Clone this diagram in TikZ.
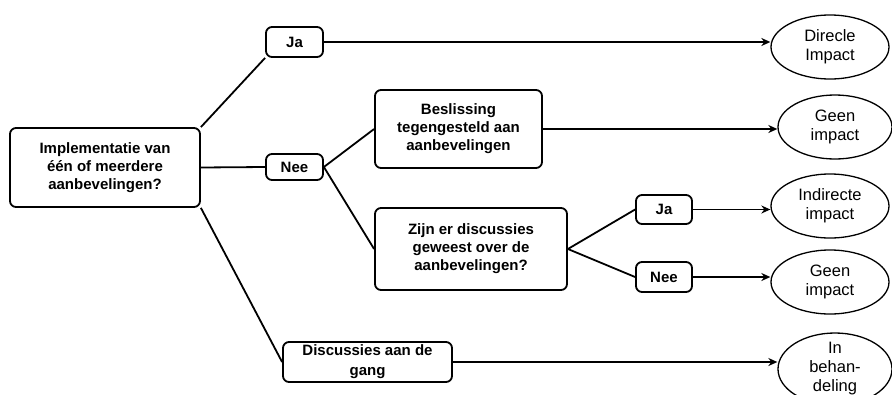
\documentclass[tikz,border=0pt]{standalone}
\usepackage{fontspec}
\setmainfont{Liberation Sans}
\usetikzlibrary{shapes.geometric, arrows.meta, positioning}

\begin{document}
\begin{tikzpicture}[x=1pt, y=-1pt,
  box/.style={draw, line width=1.8pt, rounded corners=6pt, align=center, inner sep=0pt,
    font=\fontsize{15}{18}\selectfont\bfseries},
  result/.style={draw, ellipse, line width=1.3pt, minimum width=118pt, minimum height=64pt,
    align=center, inner sep=0pt, font=\fontsize{16.5}{19}\selectfont},
  link/.style={line width=1.8pt},
  arrow/.style={line width=1.8pt, -{Stealth[length=9pt, width=8pt]}}]
\useasboundingbox (0,0) rectangle (892,394);
% --- Question and first answers ---
\node[box, minimum width=190pt, minimum height=79pt] (impl) at (105,167.5)
  {Implementatie van\\één of meerdere\\aanbevelingen?};
\node[box, minimum width=57pt, minimum height=30pt] (ja) at (294.5,42) {Ja};
\node[box, minimum width=57pt, minimum height=26pt] (nee) at (294.5,167) {Nee};
\node[box, minimum width=169pt, minimum height=40pt, font=\fontsize{15}{20}\selectfont\bfseries]
  (gang) at (367.5,362) {Discussies aan de\\gang};
% --- Branch after Nee ---
\node[box, minimum width=167pt, minimum height=78pt] (besl) at (458.5,129)
  {Beslissing\\tegengesteld aan\\aanbevelingen};
\node[box, minimum width=192pt, minimum height=82pt] (disc) at (471,249)
  {Zijn er discussies\\geweest over de\\aanbevelingen?};
\node[box, minimum width=56pt, minimum height=29pt] (ja2) at (664,209.5) {Ja};
\node[box, minimum width=56pt, minimum height=30pt] (nee2) at (664,277) {Nee};
% --- Outcomes ---
\node[result] (direct) at (830,47) {Direcle\\Impact};
\node[result, minimum width=114pt] (geen1) at (835,127) {Geen\\impact};
\node[result] (indirect) at (830,206) {Indirecte\\impact};
\node[result] (geen2) at (830,282) {Geen\\impact};
\node[result, minimum width=114pt, minimum height=72pt, inner ysep=-6pt] (behandeling) at (835,369)
  {In\\behan-\\deling};
% Connectors
\draw[link] (impl.north east) -- (ja.south west);
\draw[link] (impl.east) -- (nee.west);
\draw[link] (impl.south east) -- (gang.west);
\draw[link] (nee.east) -- (besl.west);
\draw[link] (nee.east) -- (disc.west);
\draw[link] (disc.east) -- (ja2.west);
\draw[link] (disc.east) -- (nee2.west);
\draw[arrow] (ja.east) -- (ja.east -| direct.west);
\draw[arrow] (besl.east) -- (besl.east -| geen1.west);
\draw[arrow] (ja2.east) -- (ja2.east -| indirect.west);
\draw[arrow] (nee2.east) -- (nee2.east -| geen2.west);
\draw[arrow] (gang.east) -- (gang.east -| behandeling.west);
\end{tikzpicture}
\end{document}
